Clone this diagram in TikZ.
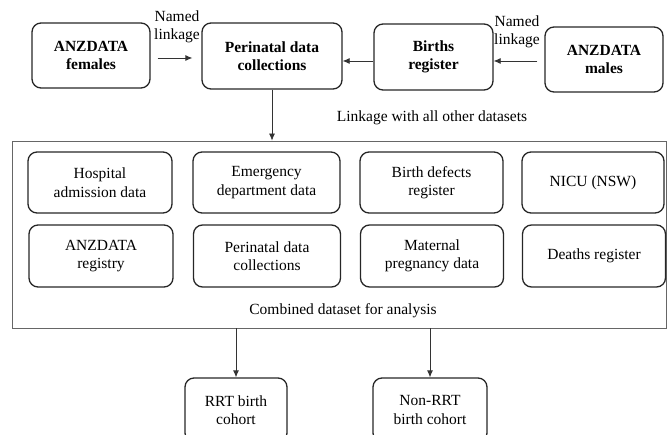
\documentclass[tikz,border=0pt]{standalone}
\usepackage{fontspec}
\setmainfont{Liberation Serif}
\usetikzlibrary{arrows.meta}
\begin{document}
\begin{tikzpicture}[x=1pt,y=-1pt,
  txt/.style={font=\fontsize{15.5}{18.5}\selectfont,align=center},
  rbox/.style={txt,draw=black!85,line width=1.3pt,rounded corners=9pt,inner sep=0pt},
  bbox/.style={rbox,font=\fontsize{15.5}{18.5}\selectfont\bfseries},
  arr/.style={draw=black!80,line width=0.8pt,-{Latex[length=7pt,width=6pt]}}]
\useasboundingbox (0,0) rectangle (668,435);
\clip (0,0) rectangle (668,435);
% top row
\node[bbox,minimum width=118pt,minimum height=65pt] (fem) at (91,55.5) {ANZDATA\\females};
\node[bbox,minimum width=140pt,minimum height=66pt] (peri) at (272,56) {Perinatal data\\collections};
\node[bbox,minimum width=119pt,minimum height=66pt] (births) at (433.5,57) {Births\\register};
\node[bbox,minimum width=118pt,minimum height=65pt] (male) at (604,59.5) {ANZDATA\\males};
\draw[arr] ([xshift=7pt]fem.east |- 0,58) coordinate (f1) -- ([xshift=-9pt]peri.west |- 0,58);
\node[txt] (nl1) at (177,27) {Named\\linkage};
\draw[arr] (births.west |- 0,61) -- (peri.east |- 0,61);
\draw[arr] ([xshift=-7pt]male.west |- 0,61) -- (births.east |- 0,61);
\node[txt] (nl2) at (517,32) {Named\\linkage};
% frame
\node[draw=black!60,line width=0.8pt,minimum width=654pt,minimum height=187pt,inner sep=0pt] (frame) at (339,234.5) {};
\draw[arr] (peri.south) -- (peri.south |- frame.north);
\node[txt] (lk) at (432,118) {Linkage with all other datasets};
% inner boxes
\node[rbox,minimum width=144pt,minimum height=61pt] (hosp) at (100,182.5) {Hospital\\admission data};
\node[rbox,minimum width=147pt,minimum height=61pt] (emer) at (266.5,182.5) {Emergency\\department data};
\node[rbox,minimum width=143pt,minimum height=61pt] (bdef) at (431.5,182.5) {Birth defects\\register};
\node[rbox,minimum width=142pt,minimum height=61pt] (nicu) at (593,182.5) {NICU (NSW)};
\node[rbox,minimum width=144pt,minimum height=62pt] (anz) at (101,256) {ANZDATA\\registry};
\node[rbox,minimum width=147pt,minimum height=62pt] (peri2) at (267,256) {Perinatal data\\collections};
\node[rbox,minimum width=143pt,minimum height=62pt] (mat) at (432,256) {Maternal\\pregnancy data};
\node[rbox,minimum width=143pt,minimum height=62pt] (death) at (594,256) {Deaths register};
\node[txt] (comb) at (343,311) {Combined dataset for analysis};
% bottom
\node[rbox,minimum width=102pt,minimum height=64pt] (rrt) at (236,410) {RRT birth\\cohort};
\node[rbox,minimum width=114pt,minimum height=64pt] (nrrt) at (430,410) {Non-RRT\\birth cohort};
\draw[arr] (rrt.north |- frame.south) -- (rrt.north);
\draw[arr] (nrrt.north |- frame.south) -- (nrrt.north);
\end{tikzpicture}
\end{document}
